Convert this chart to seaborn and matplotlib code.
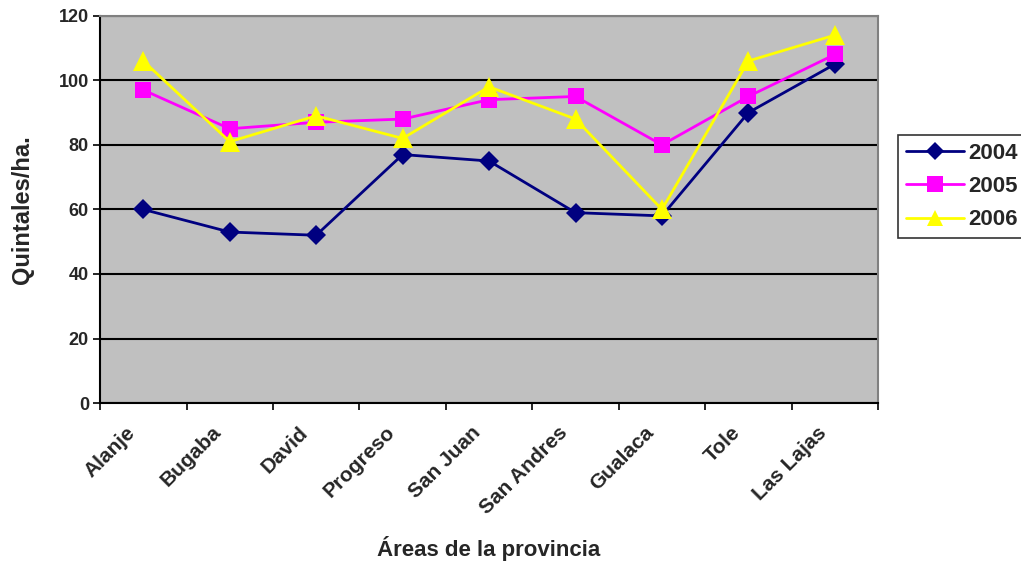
import matplotlib
matplotlib.use("Agg")
import matplotlib.pyplot as plt
import matplotlib.transforms as mtransforms
from matplotlib.ticker import FixedLocator
import pandas as pd
import seaborn as sns

# Rendimiento por área (quintales/ha.)
areas = ["Alanje", "Bugaba", "David", "Progreso", "San Juan",
         "San Andres", "Gualaca", "Tole", "Las Lajas"]
y2004 = [60, 53, 52, 77, 75, 59, 58, 90, 105]
y2005 = [97, 85, 87, 88, 94, 95, 80, 95, 108]
y2006 = [106, 81, 89, 82, 98, 88, 60, 106, 114]
years = ["2004", "2005", "2006"]

df = pd.concat([
    pd.DataFrame({"area": areas, "valor": vals, "year": yr})
    for yr, vals in zip(years, [y2004, y2005, y2006])
])

sns.set_style("white")
plt.rcParams["font.family"] = ["Liberation Sans", "DejaVu Sans"]
plt.rcParams["font.weight"] = "bold"

fig = plt.figure(figsize=(10.21, 5.63), dpi=100)
ax = fig.add_axes([0.098, 0.284, 0.762, 0.688])
ax.set_facecolor("#C0C0C0")

palette = {"2004": "#000080", "2005": "#FF00FF", "2006": "#FFFF00"}
markers = {"2004": "D", "2005": "s", "2006": "^"}
sns.lineplot(data=df, x="area", y="valor", hue="year", style="year",
             palette=palette, markers=markers, dashes=False, sort=False,
             linewidth=2, markersize=11, markeredgewidth=0, ax=ax,
             legend=False)
for line, ms in zip(ax.lines, [10, 12, 14]):
    line.set_markersize(ms)

ax.set_xlim(-0.5, len(areas) - 0.5)
ax.set_ylim(0, 120)
ax.set_yticks(range(0, 121, 20))
ax.yaxis.grid(True, color="black", linewidth=1.5)
ax.set_axisbelow(True)

ax.set_xticks(range(len(areas)))
ax.xaxis.set_minor_locator(FixedLocator([i - 0.5 for i in range(len(areas) + 1)]))
ax.tick_params(axis="x", which="major", length=0, pad=19)
ax.tick_params(axis="x", which="minor", length=5, width=1.2, direction="out", color="black")
ax.tick_params(axis="y", length=5, width=1.2, direction="out", color="black",
               labelsize=13, pad=3)
ax.xaxis.set_ticks_position("bottom")
ax.yaxis.set_ticks_position("left")
ax.set_xticklabels(areas, rotation=45, ha="right", va="center",
                   rotation_mode="anchor", fontsize=15, fontweight="bold")
# move the slanted names a bit left, like the original
shift = mtransforms.ScaledTranslation(-8 / 72, 0, fig.dpi_scale_trans)
for lab in ax.get_xticklabels():
    lab.set_transform(lab.get_transform() + shift)
for lab in ax.get_yticklabels():
    lab.set_fontweight("bold")

for side in ["left", "bottom"]:
    ax.spines[side].set_color("black")
    ax.spines[side].set_linewidth(1.5)
for side in ["top", "right"]:
    ax.spines[side].set_color("#808080")
    ax.spines[side].set_linewidth(1.5)

ax.set_xlabel("Áreas de la provincia", fontsize=16, fontweight="bold")
ax.set_ylabel("Quintales/ha.", fontsize=17, fontweight="bold")
ax.xaxis.label.set_va("center")
ax.yaxis.label.set_va("center")
ax.xaxis.set_label_coords(0.5, -0.375)
ax.yaxis.set_label_coords(-0.1, 0.5)

handles = [plt.Line2D([], [], color=palette[y], marker=markers[y], linewidth=2,
                      markersize=ms, markeredgewidth=0)
           for y, ms in zip(years, [9, 11, 12])]
leg = fig.legend(handles, years, loc="upper left", bbox_to_anchor=(0.8795, 0.760),
                 frameon=True, fancybox=False, prop={"weight": "bold", "size": 16},
                 handlelength=2.6, borderpad=0.35, labelspacing=0.55, handletextpad=0.2,
                 borderaxespad=0)
leg.get_frame().set_edgecolor("black")
leg.get_frame().set_linewidth(1.2)

fig.savefig("out.png", dpi=100)
